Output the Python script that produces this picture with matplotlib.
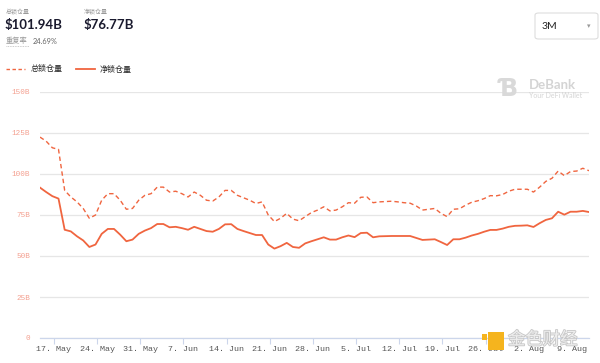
import matplotlib
matplotlib.use("Agg")
import matplotlib.pyplot as plt
import matplotlib.dates as mdates
import matplotlib.patheffects as pe
from matplotlib.patches import FancyBboxPatch, Rectangle
from matplotlib.ticker import FuncFormatter
import pandas as pd

# ---- data (billions USD), daily samples ----
start_date = "2021-05-14 18:00"
total_locked = [
    122.5, 120, 116, 115, 90, 86, 83, 79, 73, 75,
    84, 88, 88, 84, 78.5, 79, 84, 87, 88, 92,
    92, 89, 89.5, 88, 86, 89, 87, 84, 83.5, 86,
    90, 90, 87, 85.5, 84, 82, 83, 75, 71, 73,
    76, 72.5, 71.5, 74, 76.5, 78, 80, 77.5, 78, 80,
    82.5, 82.2, 85.8, 86, 82.5, 83, 83.2, 83.4, 83, 82.5,
    82.2, 80.5, 78, 78.5, 79, 76, 74, 78.5, 78.8, 81,
    82.8, 83.7, 85, 86.8, 86.7, 87.5, 89.5, 90.7, 90.7, 90.7,
    89, 92, 95.5, 97.4, 101.8, 99, 101.5, 101.8, 103.5, 102,
]
net_locked = [
    91.7, 89, 86.5, 85, 66, 65, 62, 59.5, 55.5, 57,
    63.5, 66.5, 66.5, 63, 59, 60, 63.5, 65.5, 67, 69.5,
    69.5, 67.5, 67.8, 67, 66, 67.8, 66.5, 65.2, 64.8, 66.5,
    69.3, 69.4, 66.5, 65.2, 64, 62.8, 62.8, 57, 54.5, 56,
    58, 55.5, 55, 57.7, 59, 60.2, 61.4, 60, 60, 61.4,
    62.5, 61.5, 64, 64.2, 61.4, 62, 62.1, 62.2, 62.2, 62.2,
    62.2, 61, 59.8, 60, 60.2, 58.5, 56.7, 60.2, 60.2, 61.2,
    62.5, 63.5, 64.8, 65.9, 65.9, 66.7, 67.8, 68.4, 68.5, 68.7,
    67.7, 70, 72, 73, 77, 75.2, 77, 77, 77.5, 76.8,
]
y_ticks = [0, 25, 50, 75, 100, 125, 150]
y_tick_labels = ["0", "25B", "50B", "75B", "100B", "125B", "150B"]
first_tick_date = "2021-05-17"
series_names = ["总锁仓量", "净锁仓量"]
header_values = ["$101.94B", "$76.77B"]
dup_rate_label = "重复率"
dup_rate_value = "24.69%"
range_label = "3M"

dates = pd.date_range(start_date, periods=len(total_locked), freq="D")

LINE = "#f0653f"
CJK = ["Noto Sans CJK SC", "DejaVu Sans"]
NUM = ["Lato", "Noto Sans CJK SC", "DejaVu Sans"]
MONO = ["Liberation Mono", "DejaVu Sans Mono"]

W, H = 600, 363
fig = plt.figure(figsize=(6.0, 3.63), dpi=100)
fig.patch.set_facecolor("white")

ax_left, ax_right, ax_top, ax_bottom = 40, 589, 92, 338
ax = fig.add_axes([ax_left / W, 1 - ax_bottom / H,
                   (ax_right - ax_left) / W, (ax_bottom - ax_top) / H])

ax.plot(dates, total_locked, color=LINE, lw=1.0, ls=(0, (3.2, 2.2)), zorder=3)
ax.plot(dates, net_locked, color=LINE, lw=1.3, zorder=3)

ax.set_xlim(dates[0], dates[-1])
ax.set_ylim(0, 150)
ax.set_yticks(y_ticks)
ax.set_yticklabels(y_tick_labels)
ax.grid(axis="y", color="#e6e6e6", lw=0.9, zorder=0)
ax.set_axisbelow(True)

for s in ["top", "right", "left"]:
    ax.spines[s].set_visible(False)
ax.spines["bottom"].set_color("#ccd6eb")
ax.spines["bottom"].set_linewidth(0.9)

tick_dates = pd.date_range(first_tick_date, dates[-1], freq="7D")
ax.set_xticks(tick_dates)
ax.xaxis.set_major_formatter(FuncFormatter(
    lambda v, p: f"{mdates.num2date(v).day}. {mdates.num2date(v).strftime('%b')}"))

ax.tick_params(axis="x", length=4, width=0.8, color="#ccd6eb", pad=1.5,
               labelsize=6, labelcolor="#555555")
ax.tick_params(axis="y", length=0, pad=7, labelsize=5.5, labelcolor="#f4a090")
for lbl in ax.get_xticklabels() + ax.get_yticklabels():
    lbl.set_family(MONO)

# ---- header ----
fig.text(6 / W, 1 - 12 / H, series_names[0], fontsize=4.3, color="#9a9a9a",
         family=CJK, va="center")
fig.text(5 / W, 1 - 25 / H, header_values[0], fontsize=9.5, color="#1a1a2e",
         family=NUM, weight="bold", va="center")
fig.text(84 / W, 1 - 12 / H, series_names[1], fontsize=4.3, color="#9a9a9a",
         family=CJK, va="center")
fig.text(84 / W, 1 - 25 / H, header_values[1], fontsize=9.5, color="#1a1a2e",
         family=NUM, weight="bold", va="center")
fig.text(6 / W, 1 - 41 / H, dup_rate_label, fontsize=5.2, color="#9a9a9a",
         family=CJK, va="center")
fig.add_artist(plt.Line2D([6 / W, 29 / W], [1 - 45.5 / H, 1 - 45.5 / H],
                          color="#bbbbbb", lw=0.6, ls=(0, (1, 1))))
fig.text(33 / W, 1 - 41 / H, dup_rate_value, fontsize=5.3, color="#666666",
         family=NUM, va="center")

# ---- legend ----
fig.add_artist(plt.Line2D([6 / W, 25 / W], [1 - 69 / H, 1 - 69 / H],
                          color=LINE, lw=1.0, ls=(0, (2.5, 1.8))))
fig.text(31 / W, 1 - 69 / H, series_names[0], fontsize=5.8, color="#222222",
         family=CJK, va="center")
fig.add_artist(plt.Line2D([76 / W, 95 / W], [1 - 69 / H, 1 - 69 / H],
                          color=LINE, lw=1.3))
fig.text(100 / W, 1 - 69 / H, series_names[1], fontsize=5.8, color="#222222",
         family=CJK, va="center")

# ---- range selector ----
box = FancyBboxPatch((535 / W, 1 - 39 / H), 63 / W, 26 / H,
                     boxstyle="round,pad=0,rounding_size=0.006",
                     transform=fig.transFigure, facecolor="white",
                     edgecolor="#dddddd", lw=0.8)
fig.add_artist(box)
fig.text(542 / W, 1 - 26.5 / H, range_label, fontsize=7.5, color="#222222",
         family=NUM, va="center")
fig.text(589 / W, 1 - 26.5 / H, "▾", fontsize=5, color="#999999",
         family=["DejaVu Sans"], va="center", ha="center")

# ---- DeBank watermark ----
fig.text(499 / W, 1 - 89 / H, "Ɓ", fontsize=17, color="#d9d9d9",
         family=["DejaVu Sans"], weight="bold", va="center")
fig.text(529 / W, 1 - 85 / H, "DeBank", fontsize=9.5, color="#d4d4d4",
         family=NUM, weight="bold", va="center")
fig.text(529 / W, 1 - 96 / H, "Your DeFi Wallet", fontsize=5, color="#d4d4d4",
         family=NUM, va="center")

# ---- 金色财经 watermark ----
fig.add_artist(Rectangle((488 / W, 1 - 350 / H), 16 / W, 18 / H,
                         transform=fig.transFigure, facecolor="#f5b41e",
                         edgecolor="none", zorder=5))
fig.add_artist(Rectangle((482 / W, 1 - 340 / H), 5 / W, 6 / H,
                         transform=fig.transFigure, facecolor="#f5b41e",
                         edgecolor="none", zorder=5))
fig.text(508 / W, 1 - 339.5 / H, "金色财经", fontsize=12.5, color="#f0f0f0",
         family=CJK, va="center", zorder=5, alpha=0.95,
         path_effects=[pe.withStroke(linewidth=1.2, foreground="#c4c4c4")])

fig.savefig("out.png", dpi=100, facecolor="white")
